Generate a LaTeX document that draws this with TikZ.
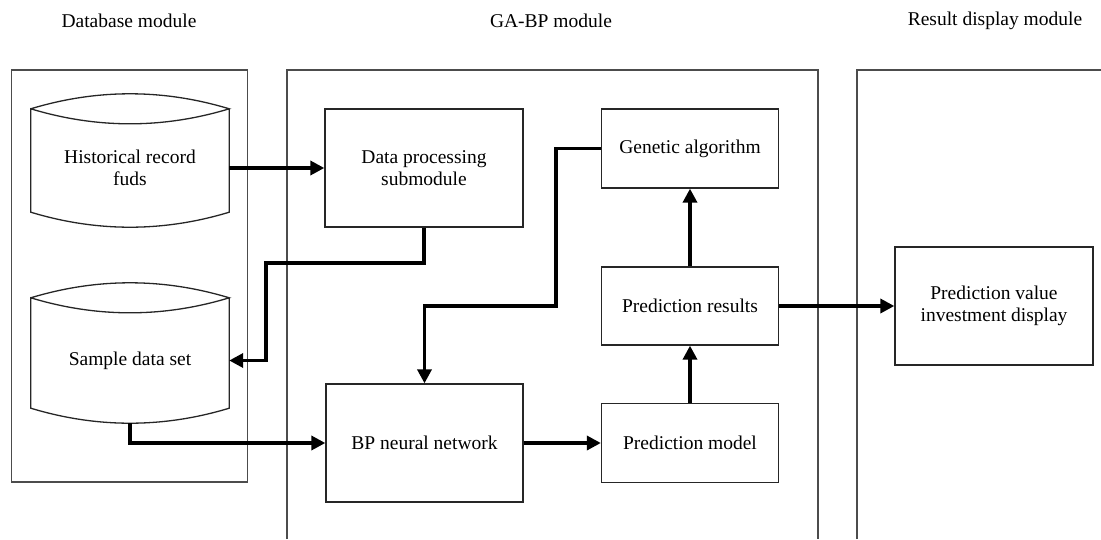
\documentclass[tikz,border=0pt]{standalone}
\usepackage{fontspec}
\setmainfont{Liberation Serif}
\usetikzlibrary{arrows.meta}
\begin{document}
\begin{tikzpicture}[x=1pt,y=-1pt,
  font=\fontsize{19.5}{22}\selectfont,
  module/.style={draw=black!70, line width=1.3pt},
  proc/.style={draw=black!85, line width=1.3pt, align=center, inner sep=0pt},
  cylnode/.style={align=center, inner sep=0pt},
  cyl/.style={draw=black!85, line width=1.3pt},
  arr/.style={line width=3.4pt, -{Triangle[length=14pt,width=14pt]}},
  title/.style={inner sep=0pt}
]
\useasboundingbox (0,0) rectangle (1101,539);

% module frames
\draw[module] (11.5,70) rectangle (247.5,482);
\draw[module] (287,539) -- (287,70) -- (818,70) -- (818,539);
\draw[module] (857,539) -- (857,70) -- (1101,70);

% titles
\node[title] (t1) at (129,21) {Database module};
\node[title] (t2) at (551,21) {GA-BP module};
\node[title] (t3) at (995,21) {Result display module};

% cylinders
\node[cylnode, minimum width=198pt, minimum height=118pt] (hist) at (130,168) {Historical record\\fuds};
\node[cylnode, minimum width=198pt, minimum height=125pt] (sample) at (130,360.5) {Sample data set};
\foreach \n in {hist,sample}{
  \draw[cyl] (\n.north west) .. controls +(66,-20) and +(-66,-20) .. (\n.north east)
    .. controls +(-66,20) and +(66,20) .. (\n.north west)
    -- ([yshift=15pt]\n.south west)
    .. controls +(66,20) and +(-66,20) .. ([yshift=15pt]\n.south east)
    -- (\n.north east);
}

% process boxes
\node[proc, minimum width=198pt, minimum height=118pt] (dp) at (424,168) {Data processing\\submodule};
\node[proc, minimum width=177pt, minimum height=79pt] (ga) at (690,148.5) {Genetic algorithm};
\node[proc, minimum width=177pt, minimum height=78pt] (pr) at (690,306) {Prediction results};
\node[proc, minimum width=197pt, minimum height=118pt] (bp) at (424.5,443) {BP neural network};
\node[proc, minimum width=177pt, minimum height=79pt] (pm) at (690,443) {Prediction model};
\node[proc, minimum width=198pt, minimum height=118pt] (pv) at (994,306) {Prediction value\\investment display};

% bend points
\coordinate (k1) at (266,263);
\coordinate (k2) at (556,306);

% connectors
\draw[arr] (hist.east) -- (dp.west);
\draw[arr] (dp.south) |- (k1) |- (sample.east);
\draw[arr] (ga.west) -| (k2) -| (bp.north);
\draw[arr] (sample.south) |- (bp.west);
\draw[arr] (bp.east) -- (pm.west);
\draw[arr] (pm.north) -- (pr.south);
\draw[arr] (pr.north) -- (ga.south);
\draw[arr] (pr.east) -- (pv.west);
\end{tikzpicture}
\end{document}
